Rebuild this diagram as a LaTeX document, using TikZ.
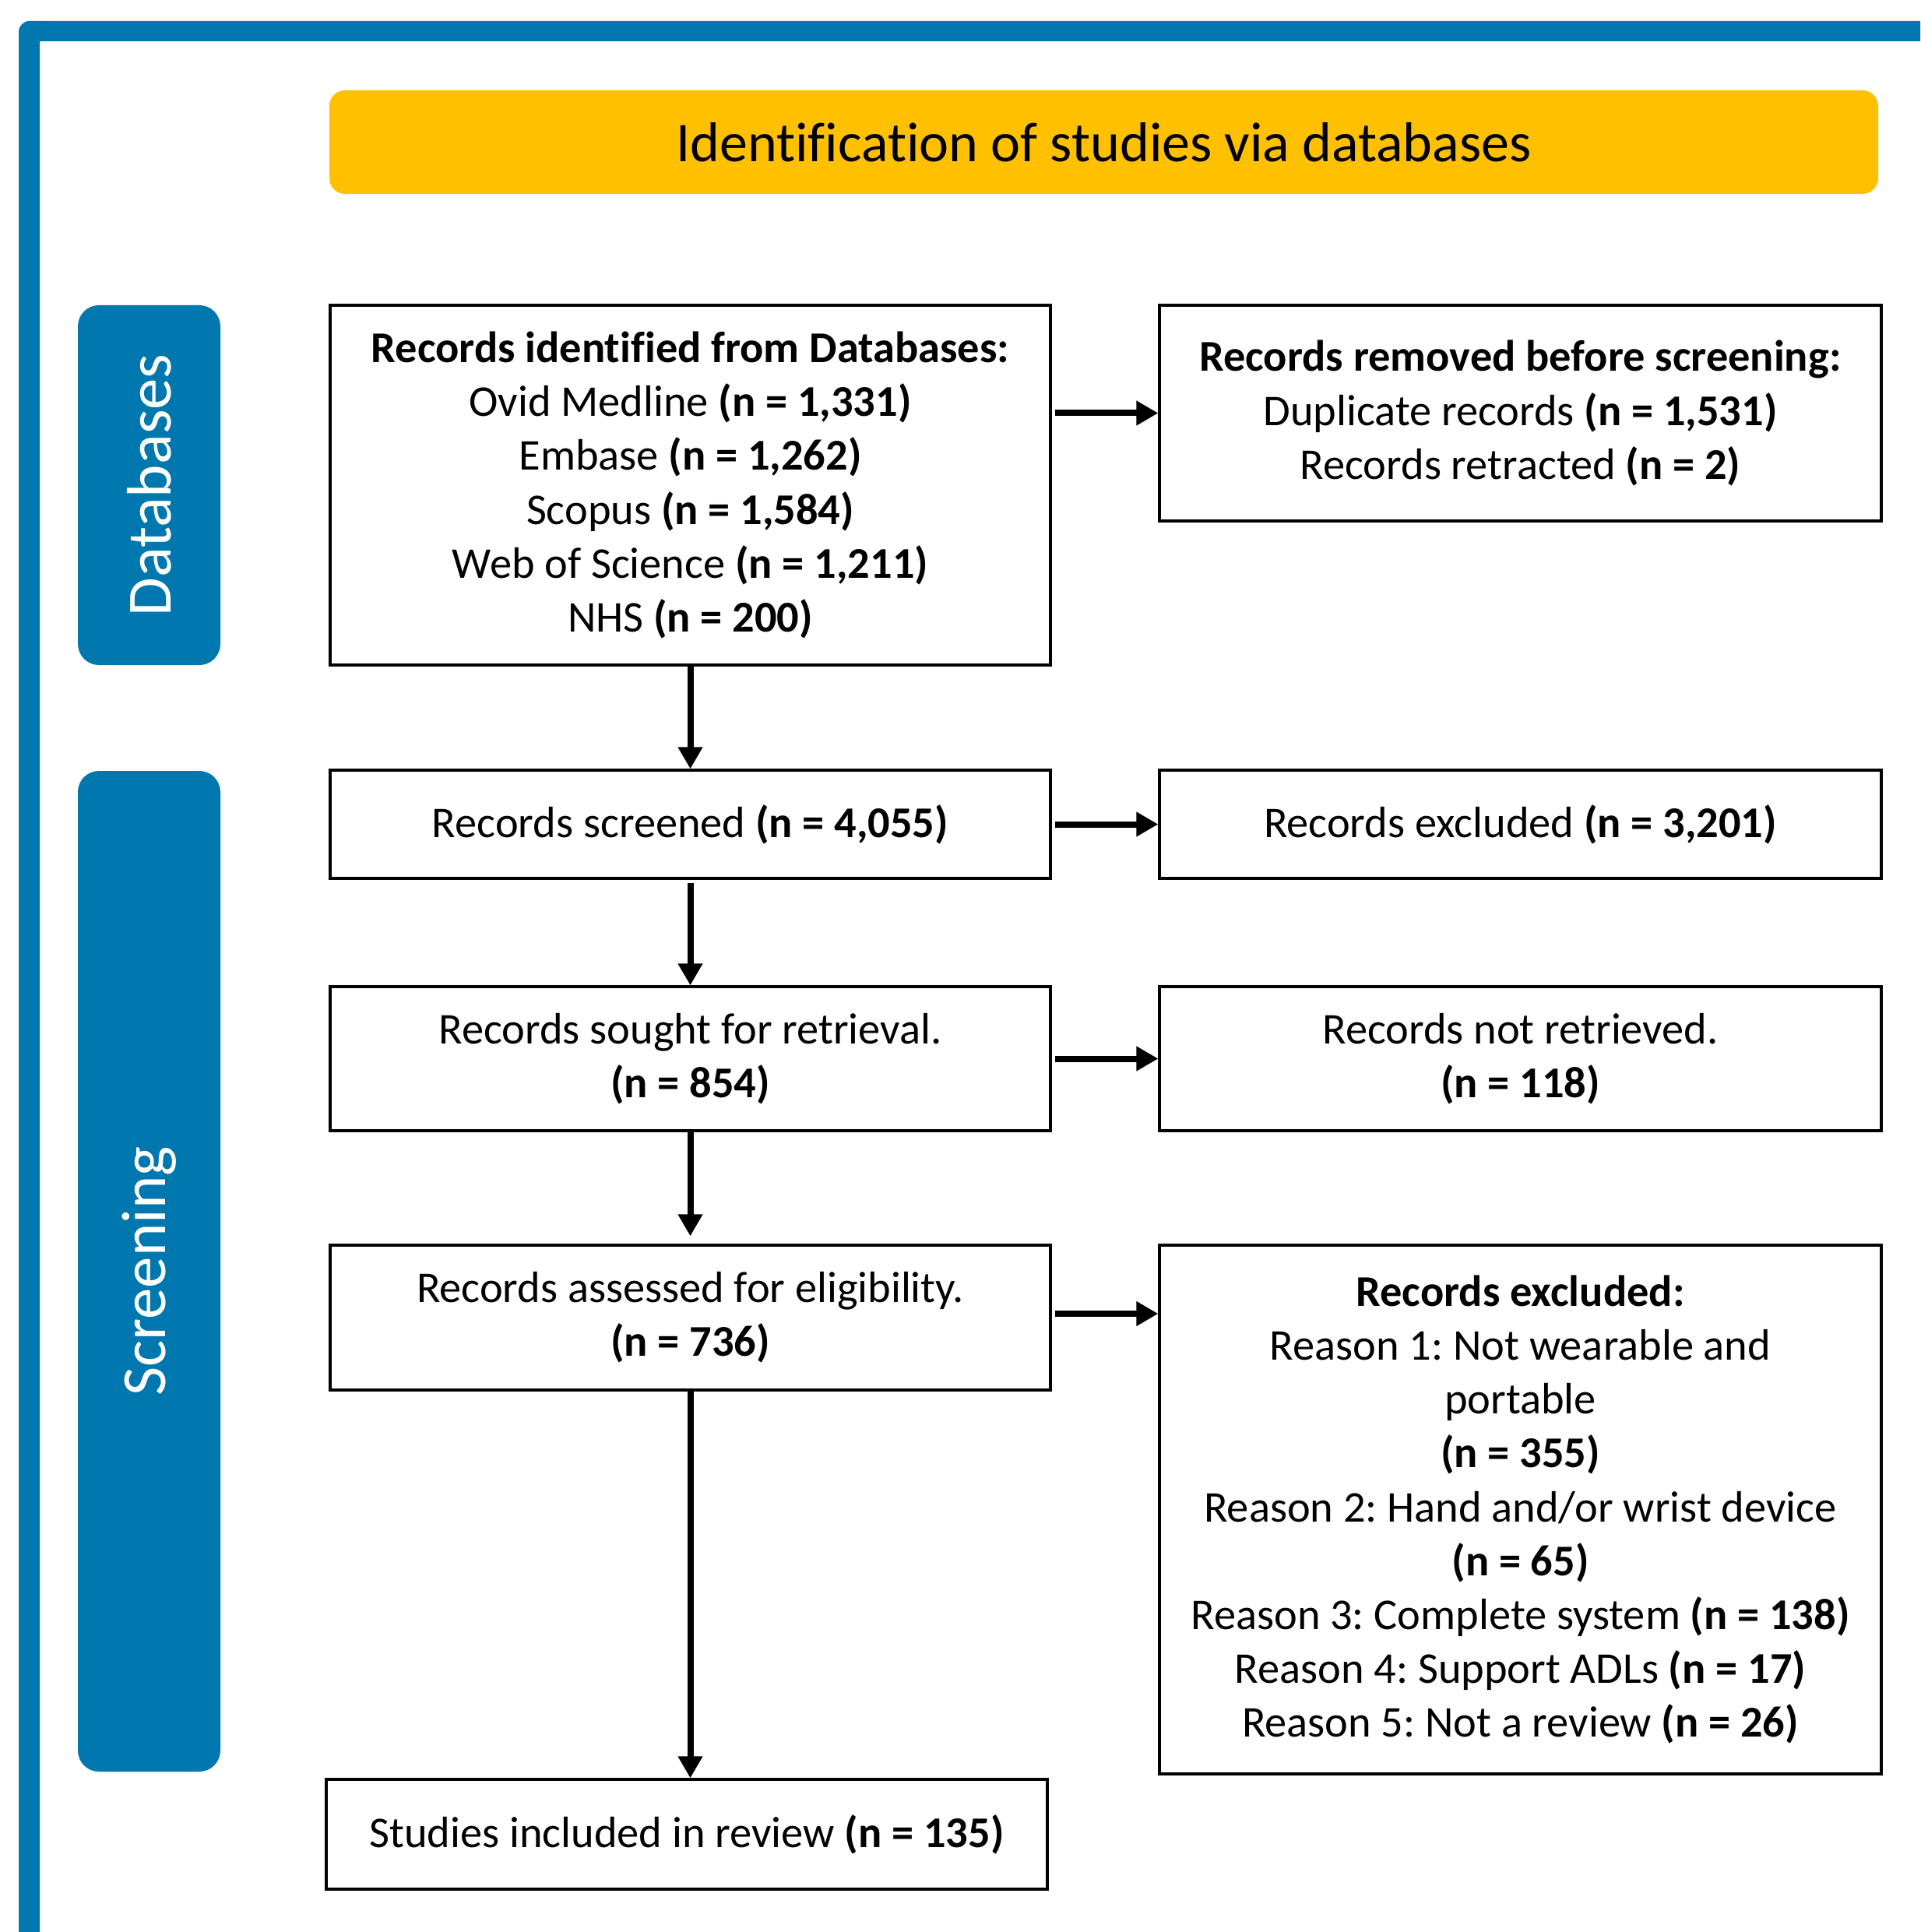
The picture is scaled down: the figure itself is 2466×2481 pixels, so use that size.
\documentclass[tikz,border=0pt]{standalone}
\usepackage{fontspec}
\setmainfont{Carlito}[Ligatures=NoCommon]
\usetikzlibrary{arrows.meta,calc}
\definecolor{frameblue}{RGB}{0,119,174}
\definecolor{hdryellow}{RGB}{255,192,0}
\frenchspacing
\begin{document}
\begin{tikzpicture}[x=0.25pt,y=-0.25pt,
  box/.style={draw=black,line width=0.8pt,fill=white,align=center,inner sep=0pt,
    font=\fontsize{14.1pt}{17.3pt}\selectfont},
  lbox/.style={box,minimum width=231.25pt},
  rbox/.style={box,minimum width=231.75pt},
  side/.style={fill=frameblue,rounded corners=6.75pt,inner sep=0pt,minimum width=45.75pt},
  sidetext/.style={rotate=90,text=white,inner sep=0pt,font=\fontsize{20.2pt}{24pt}\selectfont},
  arr/.style={line width=2pt,-{Triangle[length=7pt,width=7.5pt]}}]
\useasboundingbox (0,0) rectangle (2466,2481);
\fill[white] (0,0) rectangle (2466,2481);
% frame
\fill[frameblue] (2466,27) [rounded corners=3.5pt] -- (24,27) [sharp corners] -- (24,2481) -- (51,2481) -- (51,53) -- (2466,53) -- cycle;
% header
\node[fill=hdryellow,rounded corners=5pt,inner sep=0pt,minimum width=497.25pt,minimum height=33.25pt,
  font=\fontsize{18pt}{22pt}\selectfont] (title) at (1417.5,182.5) {Identification of studies via databases};
% side labels
\node[side,minimum height=115.5pt] (dbl) at (191.5,623) {};
\node[sidetext] (dbltext) at (dbl.center) {Databases};
\node[side,minimum height=321.25pt] (scl) at (191.5,1632.5) {};
\node[sidetext] (scltext) at (scl.center) {Screening};
% boxes
\node[lbox,minimum height=115.5pt] (b1) at (886.5,623) {\textbf{Records identified from Databases:}\\
  Ovid Medline \textbf{(n = 1,331)}\\
  Embase \textbf{(n = 1,262)}\\
  Scopus \textbf{(n = 1,584)}\\
  Web of Science \textbf{(n = 1,211)}\\
  NHS \textbf{(n = 200)}};
\node[rbox,minimum height=69.25pt] (rem) at (1952.5,530.5) {\textbf{Records removed before screening:}\\
  Duplicate records \textbf{(n = 1,531)}\\
  Records retracted \textbf{(n = 2)}};
\node[lbox,minimum height=34.75pt] (scr) at (886.5,1058.5) {Records screened \textbf{(n = 4,055)}};
\node[rbox,minimum height=34.75pt] (exc1) at (1952.5,1058.5) {Records excluded \textbf{(n = 3,201)}};
\node[lbox,minimum height=46.25pt] (sought) at (886.5,1359.5) {Records sought for retrieval.\\\textbf{(n = 854)}};
\node[rbox,minimum height=46.25pt] (notret) at (1952.5,1359.5) {Records not retrieved.\\\textbf{(n = 118)}};
\node[lbox,minimum height=46.5pt] (assess) at (886.5,1692) {Records assessed for eligibility.\\\textbf{(n = 736)}};
\node[rbox,minimum height=169.75pt] (exc2) at (1952.5,1938.5) {\textbf{Records excluded:}\\
  Reason 1: Not wearable and\\
  portable\\
  \textbf{(n = 355)}\\
  Reason 2: Hand and/or wrist device\\
  \textbf{(n = 65)}\\
  Reason 3: Complete system \textbf{(n = 138)}\\
  Reason 4: Support ADLs \textbf{(n = 17)}\\
  Reason 5: Not a review \textbf{(n = 26)}};
\node[box,minimum width=231.5pt,minimum height=35.25pt] (incl) at (882,2355.5) {Studies included in review \textbf{(n = 135)}};
% arrows
\draw[arr] ($(b1.east |- rem.west)+(4,0)$) -- (rem.west);
\draw[arr] ($(scr.east)+(4,0)$) -- (exc1.west);
\draw[arr] ($(sought.east)+(4,0)$) -- (notret.west);
\draw[arr] ($(assess.east)+(4,-5)$) -- ($(assess.east -| exc2.west)+(0,-5)$);
\draw[arr] (b1.south) -- (scr.north);
\draw[arr] ($(scr.south)+(0,4)$) -- (sought.north);
\draw[arr] (sought.south) -- ($(assess.north)+(0,-10)$);
\draw[arr] (assess.south) -- (assess.south |- incl.north);
\end{tikzpicture}
\end{document}
